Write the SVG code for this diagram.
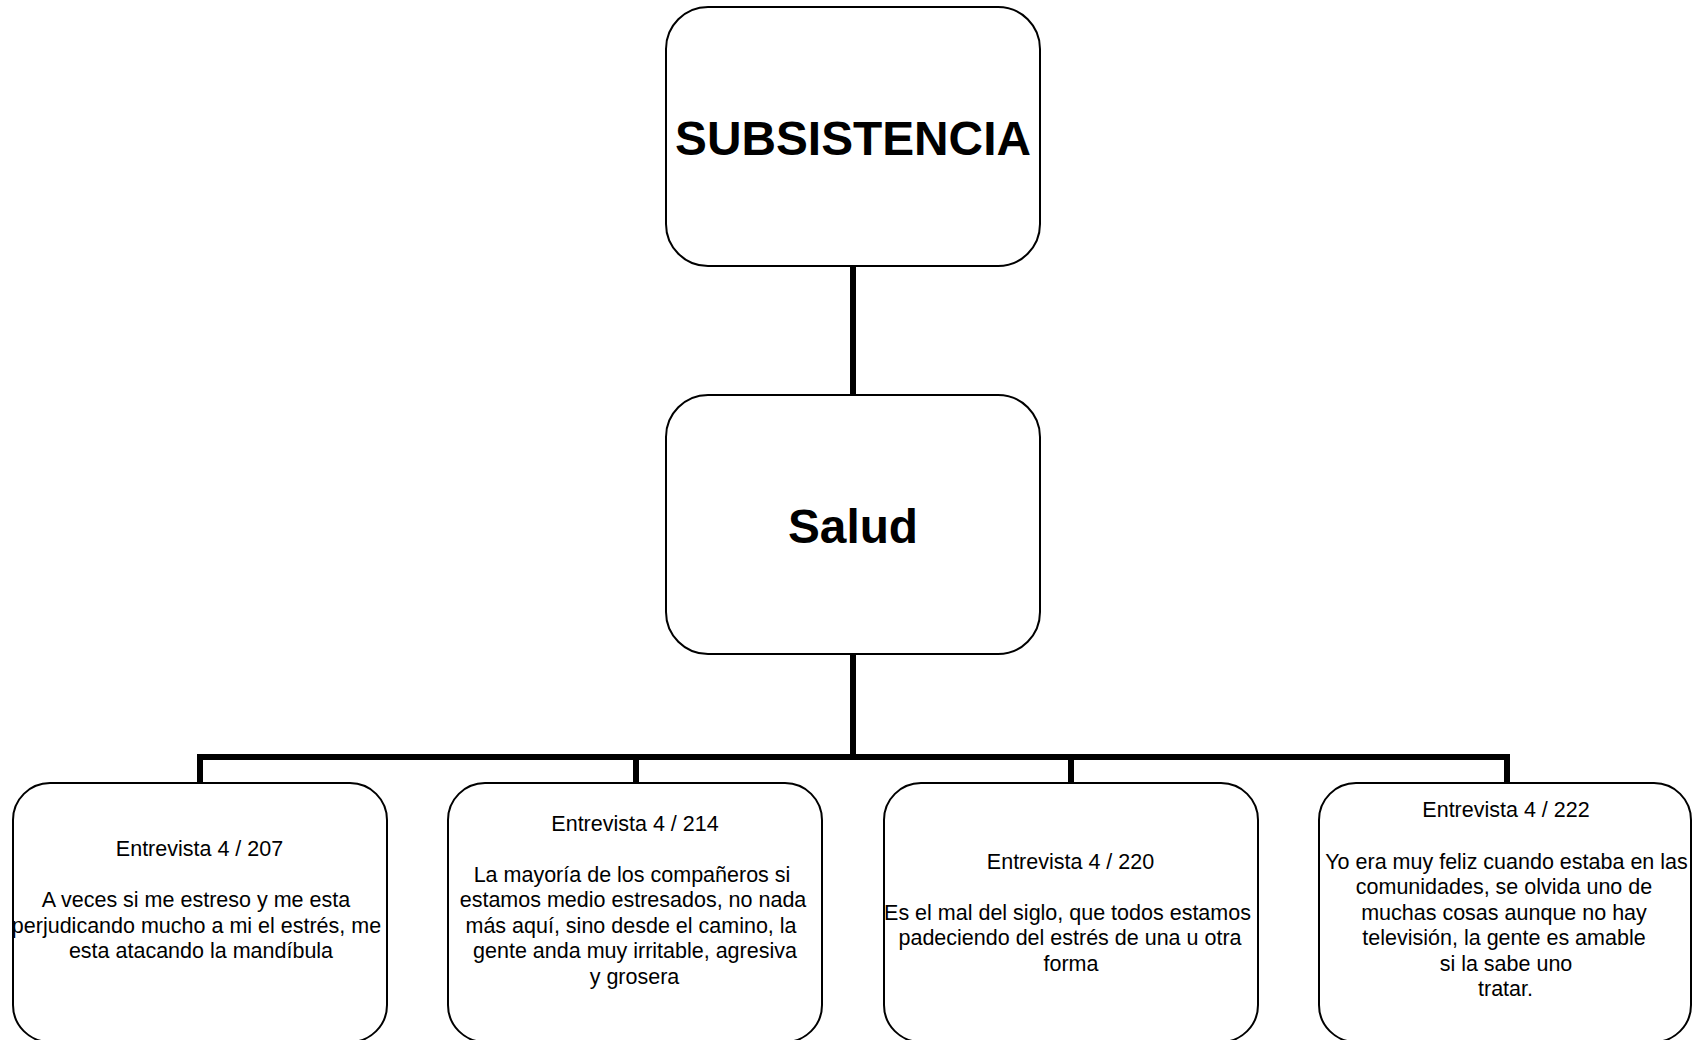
<svg xmlns="http://www.w3.org/2000/svg" width="1695" height="1040" viewBox="0 0 1695 1040">
<style>
.box{fill:#fff;stroke:#000;stroke-width:2}
.conn{fill:none;stroke:#000;stroke-width:6;stroke-linejoin:miter}
.title{font-family:"Liberation Sans",Arial,sans-serif;font-weight:bold;font-size:47.8px;text-anchor:middle;fill:#000}
.t{font-family:"Liberation Sans",Arial,sans-serif;font-size:21.5px;text-anchor:middle;fill:#000}
</style>
<rect width="1695" height="1040" fill="#fff"/>
<g id="connectors">
<path class="conn" d="M853,266 V395"/>
<path class="conn" d="M853,654 V757"/>
<path class="conn" d="M200,784 V757 H1507 V784"/>
<path class="conn" d="M636,757 V784"/>
<path class="conn" d="M1071,757 V784"/>
</g>
<g id="node-subsistencia">
<rect class="box" x="666" y="7" width="374" height="259" rx="42"/>
<text class="title" x="853" y="155">SUBSISTENCIA</text>
</g>
<g id="node-salud">
<rect class="box" x="666" y="395" width="374" height="259" rx="42"/>
<text class="title" x="853" y="543">Salud</text>
</g>
<g id="node-207">
<rect class="box" x="13" y="783" width="374" height="259" rx="37"/>
<text class="t" x="199.5" y="856">Entrevista 4 / 207</text>
<text class="t" x="196" y="907">A veces si me estreso y me esta</text>
<text class="t" x="196.5" y="932.5">perjudicando mucho a mi el estrés, me</text>
<text class="t" x="201" y="958">esta atacando la mandíbula</text>
</g>
<g id="node-214">
<rect class="box" x="448" y="783" width="374" height="259" rx="37"/>
<text class="t" x="635" y="830.5">Entrevista 4 / 214</text>
<text class="t" x="632" y="881.5">La mayoría de los compañeros si</text>
<text class="t" x="633" y="907">estamos medio estresados, no nada</text>
<text class="t" x="631" y="932.5">más aquí, sino desde el camino, la</text>
<text class="t" x="635" y="958">gente anda muy irritable, agresiva</text>
<text class="t" x="634.5" y="983.5">y grosera</text>
</g>
<g id="node-220">
<rect class="box" x="884" y="783" width="374" height="259" rx="37"/>
<text class="t" x="1070.5" y="868.5">Entrevista 4 / 220</text>
<text class="t" x="1067.5" y="919.5">Es el mal del siglo, que todos estamos</text>
<text class="t" x="1070" y="945">padeciendo del estrés de una u otra</text>
<text class="t" x="1071" y="970.5">forma</text>
</g>
<g id="node-222">
<rect class="box" x="1319" y="783" width="372" height="259" rx="37"/>
<text class="t" x="1506" y="817">Entrevista 4 / 222</text>
<text class="t" x="1506.5" y="868.5">Yo era muy feliz cuando estaba en las</text>
<text class="t" x="1504" y="894">comunidades, se olvida uno de</text>
<text class="t" x="1504" y="919.5">muchas cosas aunque no hay</text>
<text class="t" x="1504" y="945">televisión, la gente es amable</text>
<text class="t" x="1506" y="970.5">si la sabe uno</text>
<text class="t" x="1505.5" y="996">tratar.</text>
</g>
</svg>
